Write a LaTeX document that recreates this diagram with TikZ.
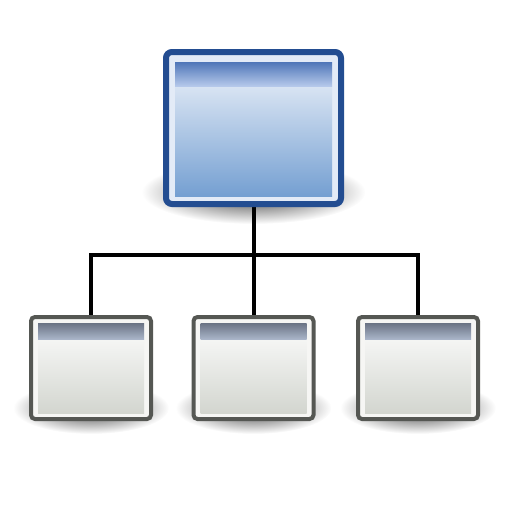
\documentclass[tikz,border=0pt]{standalone}
\usetikzlibrary{backgrounds}
\definecolor{rootedge}{HTML}{234D91}
\definecolor{rootband}{HTML}{E3EBF7}
\definecolor{roottitletop}{HTML}{4F76B8}
\definecolor{roottitlebot}{HTML}{B5C8EA}
\definecolor{rootbodytop}{HTML}{F7F9FD}
\definecolor{rootbodybot}{HTML}{6D9ACF}
\definecolor{leafedge}{HTML}{555753}
\definecolor{leafband}{HTML}{F6F6F4}
\definecolor{leaftitletop}{HTML}{6A7384}
\definecolor{leaftitlebot}{HTML}{A9B4C8}
\definecolor{leafbodytop}{HTML}{FFFFFF}
\definecolor{leafbodybot}{HTML}{D0D3CC}
\begin{document}
\begin{tikzpicture}[x=1pt, y=-1pt,
  rootwin/.style={draw=rootedge, fill=rootband, line width=6pt, rounded corners=6pt,
    inner sep=0pt, minimum width=175pt, minimum height=152pt,
    path picture={
      \fill[sharp corners, top color=rootbodytop, bottom color=rootbodybot]
        ([shift={(9,33)}]path picture bounding box.north west) rectangle
        ([shift={(-9,-8)}]path picture bounding box.south east);
      \fill[sharp corners, top color=roottitletop, bottom color=roottitlebot]
        ([shift={(9,10)}]path picture bounding box.north west) rectangle
        ([shift={(-9,34)}]path picture bounding box.north east);
    }},
  leafwin/.style={draw=leafedge, fill=leafband, line width=4pt, rounded corners=4pt,
    inner sep=0pt, minimum width=120pt, minimum height=102pt,
    path picture={
      \fill[sharp corners, top color=leafbodytop, bottom color=leafbodybot]
        ([shift={(7,21)}]path picture bounding box.north west) rectangle
        ([shift={(-7,-6)}]path picture bounding box.south east);
      \fill[sharp corners, top color=leaftitletop, bottom color=leaftitlebot]
        ([shift={(7,6)}]path picture bounding box.north west) rectangle
        ([shift={(-7,22)}]path picture bounding box.north east);
    }},
  busline/.style={line width=4pt, black}]
\useasboundingbox (0,0) rectangle (512,512);
% Nodes
\node[rootwin] (root) at (253.5,128) {};
\node[leafwin] (leaf1) at (91,368) {};
\node[leafwin] (leaf2) at (253.5,368) {};
\node[leafwin] (leaf3) at (418,368) {};
\path (root.south) ++(0,48) coordinate (bus);

% Shadows and edges
\begin{scope}[on background layer]
  \shade[inner color=black!80, outer color=white] (253.5,192) ellipse [x radius=112, y radius=32];
  \foreach \n in {leaf1, leaf2, leaf3}
    \shade[inner color=black!75, outer color=white] ([yshift=-40pt]\n.center) ellipse [x radius=78, y radius=26];
  \draw[busline] (root.south) -- (bus);
  \draw[busline] (leaf1.north) |- (bus) -| (leaf3.north);
  \draw[busline] (bus) -- (leaf2.north);
\end{scope}
\end{tikzpicture}
\end{document}
